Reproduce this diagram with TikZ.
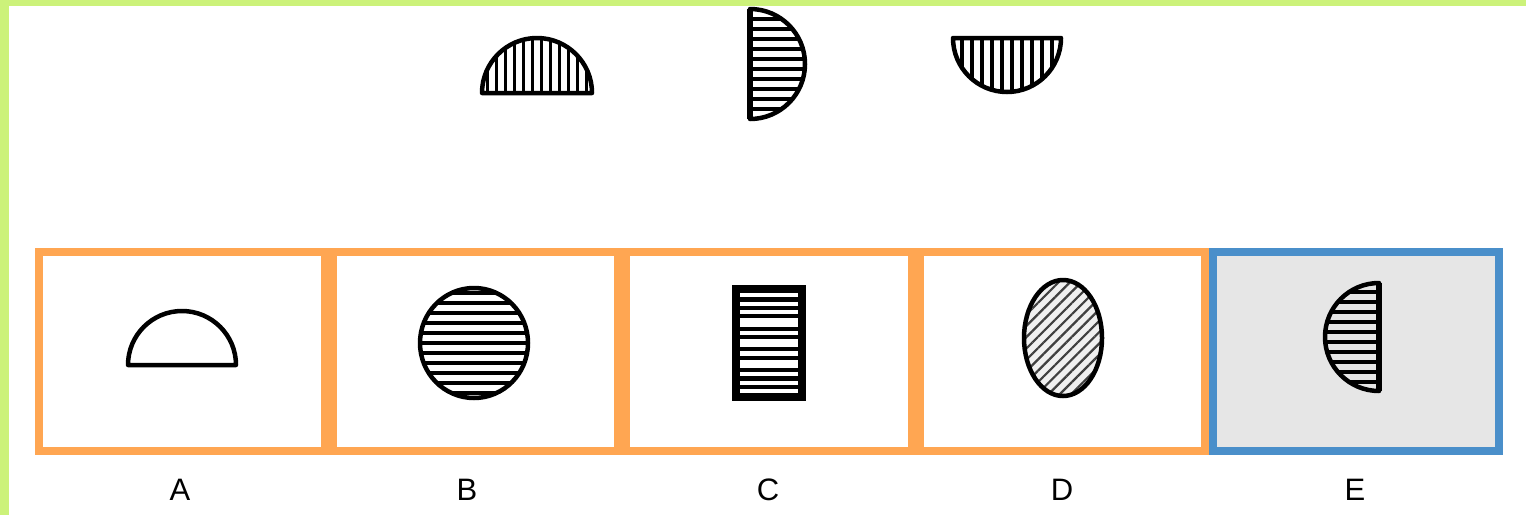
\documentclass[tikz,border=0pt]{standalone}
\usepackage{fontspec}
\setmainfont{Liberation Sans}
\usepackage{tikz}
\usetikzlibrary{patterns.meta, positioning}

\definecolor{framegreen}{RGB}{204,242,122}
\definecolor{optorange}{RGB}{255,166,82}
\definecolor{optblue}{RGB}{74,143,202}
\definecolor{optgray}{RGB}{230,230,230}

\begin{document}
\begin{tikzpicture}[x=1pt, y=-1pt,
    optbox/.style={draw=optorange, line width=8pt, fill=white, minimum width=285.6pt, minimum height=199pt, inner sep=0pt},
    optlabel/.style={font=\fontsize{31}{34}\selectfont, inner sep=0pt},
    outline/.style={line width=4.5pt, line join=round},
    stripe/.style={line width=3.5pt}]
    \useasboundingbox (0,0) rectangle (1526,515);
    \fill[white] (0,0) rectangle (1526,515);
    \fill[framegreen] (0,0) rectangle (1526,6);
    \fill[framegreen] (0,0) rectangle (9,515);

    % question row
    \begin{scope}
        \clip (482,93) arc[start angle=180, end angle=360, radius=55] -- cycle;
        \foreach \dx in {-49.5,-40.5,...,49.5}
            \draw[stripe] (537+\dx,30) -- (537+\dx,100);
    \end{scope}
    \draw[outline] (482,93) arc[start angle=180, end angle=360, radius=55] -- cycle;

    \begin{scope}
        \clip (750,9) arc[start angle=-90, end angle=90, radius=55] -- cycle;
        \foreach \dy in {-45,-35,...,45}
            \draw[stripe] (745,64+\dy) -- (810,64+\dy);
    \end{scope}
    \draw[outline] (750,9) arc[start angle=-90, end angle=90, radius=55] -- cycle;
    \draw[line width=6pt] (750,9) -- (750,119);

    \begin{scope}
        \clip (953,38) arc[start angle=180, end angle=0, radius=54] -- cycle;
        \foreach \dx in {-45,-35,...,45}
            \draw[stripe] (1007+\dx,30) -- (1007+\dx,100);
    \end{scope}
    \draw[outline] (953,38) arc[start angle=180, end angle=0, radius=54] -- cycle;

    % answer boxes
    \node[optbox] (boxA) at (181.8,351.5) {};
    \node[optbox, right=0pt of boxA] (boxB) {};
    \node[optbox, right=0pt of boxB] (boxC) {};
    \node[optbox, right=0pt of boxC] (boxD) {};
    \node[optbox, right=0pt of boxD, draw=optblue, fill=optgray] (boxE) {};

    \node[optlabel] (labA) at (180,490) {A};
    \node[optlabel] (labB) at (467,490) {B};
    \node[optlabel] (labC) at (768,490) {C};
    \node[optlabel] (labD) at (1062,490) {D};
    \node[optlabel] (labE) at (1355,490) {E};

    % A
    \draw[outline, fill=white] (128,365) arc[start angle=180, end angle=360, radius=54] -- cycle;

    % B
    \begin{scope}
        \clip (474,343) ellipse [x radius=54, y radius=55];
        \foreach \dy in {-50,-40,...,50}
            \draw[stripe] (415,343+\dy) -- (535,343+\dy);
    \end{scope}
    \draw[outline] (474,343) ellipse [x radius=54, y radius=55];

    % C
    \fill (732,285) rectangle (806,401);
    \foreach \ya/\yb in {293/297, 302/306, 310/314, 318/327, 331/335, 339/347, 351/356, 360/368, 372/376, 381/385, 389/393}
        \fill[white] (740,\ya) rectangle (798,\yb);

    % D
    \fill[black!6] (1063,338) ellipse [x radius=39, y radius=58];
    \fill[pattern={Lines[angle=45, distance=8pt, line width=2.2pt]}, pattern color=black!75] (1063,338) ellipse [x radius=39, y radius=58];
    \draw[outline] (1063,338) ellipse [x radius=39, y radius=58];

    % E
    \begin{scope}
        \clip (1379,283) arc[start angle=-90, end angle=-270, radius=54] -- cycle;
        \foreach \dy in {-45,-35,...,45}
            \draw[stripe] (1320,337+\dy) -- (1385,337+\dy);
    \end{scope}
    \draw[outline] (1379,283) arc[start angle=-90, end angle=-270, radius=54] -- cycle;
    \draw[line width=6pt] (1379,283) -- (1379,391);
\end{tikzpicture}
\end{document}
